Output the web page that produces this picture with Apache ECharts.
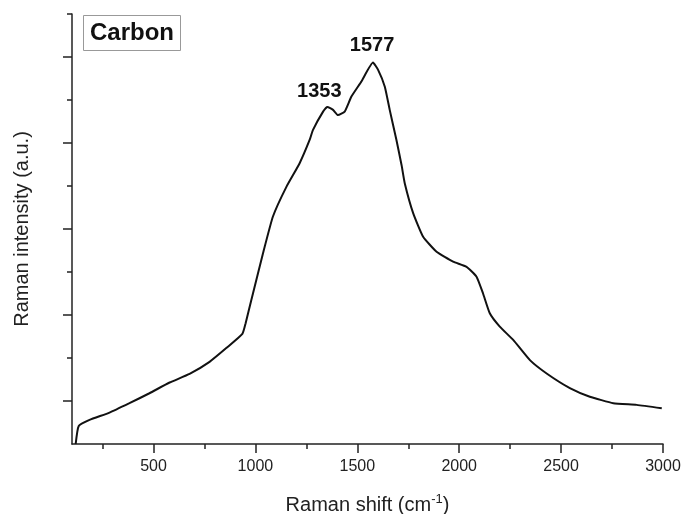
<!DOCTYPE html>
<html>
<head>
<meta charset="utf-8">
<script src="https://cdn.jsdelivr.net/npm/echarts@6/dist/echarts.min.js"></script>
<style>html,body{margin:0;padding:0;background:#fff;}#c{width:684px;height:514px;}</style>
</head>
<body>
<div id="c"></div>
<script>
// Raman shift (cm-1)
var shift = [118, 133, 186, 284, 382, 480, 579, 677, 775, 857, 936, 952, 980, 988, 1037, 1086, 1152, 1217, 1266, 1282, 1332, 1353, 1381, 1405, 1438, 1471, 1520, 1577, 1602, 1635, 1659, 1692, 1717, 1733, 1774, 1823, 1889, 1970, 2036, 2085, 2117, 2150, 2199, 2265, 2347, 2429, 2543, 2641, 2756, 2871, 2994];
// Raman intensity (a.u.)
var intensity = [0.0, 0.42, 0.56, 0.73, 0.95, 1.18, 1.43, 1.63, 1.91, 2.23, 2.56, 2.81, 3.35, 3.50, 4.43, 5.29, 5.98, 6.53, 7.07, 7.30, 7.73, 7.84, 7.77, 7.65, 7.73, 8.08, 8.43, 8.87, 8.70, 8.31, 7.77, 7.07, 6.49, 6.06, 5.37, 4.82, 4.47, 4.24, 4.12, 3.89, 3.50, 3.04, 2.73, 2.42, 1.95, 1.64, 1.30, 1.10, 0.95, 0.91, 0.83];
var peakLabels = [1353, 1577];
var xMajorTicks = [500, 1000, 1500, 2000, 2500, 3000];
var xMinorTicks = [250, 750, 1250, 1750, 2250, 2750];
var yMajorTicks = [1, 3, 5, 7, 9];
var yMinorTicks = [2, 4, 6, 8, 10];
var seriesName = 'Carbon';

var FONT = '"Liberation Sans", Arial, sans-serif';
var AX = '#222';
var data = shift.map(function (x, i) { return [x, intensity[i]]; });
var peakOffsets = { 1353: [-8, -15], 1577: [-1, -17] };
var markData = peakLabels.map(function (p) {
  var i = shift.indexOf(p);
  return { coord: [p, intensity[i]], value: String(p), label: { offset: peakOffsets[p] } };
});

var chart = echarts.init(document.getElementById('c'), null, { renderer: 'canvas' });
chart.setOption({
  animation: false,
  backgroundColor: '#fff',
  title: {
    text: seriesName,
    left: 83, top: 15,
    borderWidth: 1, borderColor: '#999',
    padding: [6, 7],
    textStyle: { fontFamily: FONT, fontSize: 24, fontWeight: 'bold', color: '#111', lineHeight: 24 }
  },
  grid: { left: 72, right: 21, top: 14, bottom: 70, containLabel: false, outerBoundsMode: 'none' },
  xAxis: [{
    type: 'value', min: 100, max: 3000,
    name: '{a|Raman shift (cm}{s|-1}{a|)}',
    nameLocation: 'middle', nameGap: 49,
    nameTextStyle: {
      rich: {
        a: { fontFamily: FONT, fontSize: 20, color: AX, lineHeight: 24 },
        s: { fontFamily: FONT, fontSize: 13, color: AX, verticalAlign: 'top', lineHeight: 24, padding: [0, 0, 8, 0] }
      }
    },
    axisLine: { show: true, onZero: false, lineStyle: { color: AX, width: 1.5 } },
    axisTick: { show: true, inside: false, length: 9, customValues: xMajorTicks, lineStyle: { color: AX, width: 1.5 } },
    axisLabel: { show: true, customValues: xMajorTicks, margin: 15, fontFamily: FONT, fontSize: 16, color: AX,
      formatter: function (v) { return String(v); } },
    splitLine: { show: false }
  }, {
    type: 'value', min: 100, max: 3000, position: 'bottom',
    axisLine: { show: false },
    axisTick: { show: true, length: 5, customValues: xMinorTicks, lineStyle: { color: AX, width: 1.5 } },
    axisLabel: { show: false },
    splitLine: { show: false }
  }],
  yAxis: [{
    type: 'value', min: 0, max: 10,
    name: 'Raman intensity (a.u.)',
    nameLocation: 'middle', nameGap: 40,
    nameTextStyle: { fontFamily: FONT, fontSize: 20, color: AX },
    axisLine: { show: true, onZero: false, lineStyle: { color: AX, width: 1.5 } },
    axisTick: { show: true, length: 9, customValues: yMajorTicks, lineStyle: { color: AX, width: 1.5 } },
    axisLabel: { show: false },
    splitLine: { show: false }
  }, {
    type: 'value', min: 0, max: 10, position: 'left',
    axisLine: { show: false },
    axisTick: { show: true, length: 5, customValues: yMinorTicks, lineStyle: { color: AX, width: 1.5 } },
    axisLabel: { show: false },
    splitLine: { show: false }
  }],
  series: [{
    name: seriesName,
    type: 'line',
    data: data,
    showSymbol: false,
    smooth: 0.15,
    lineStyle: { color: '#111', width: 2 },
    markPoint: {
      symbol: 'circle', symbolSize: 0,
      label: { show: true, position: 'inside', fontFamily: FONT, fontSize: 20, fontWeight: 'bold', color: '#111', formatter: '{c}' },
      data: markData
    }
  }]
});
</script>
</body>
</html>
